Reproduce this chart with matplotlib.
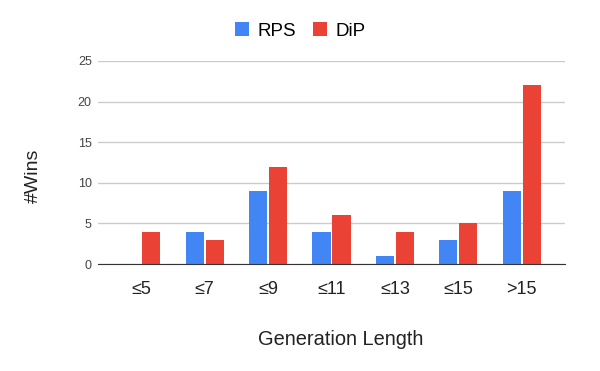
import numpy as np
import matplotlib
matplotlib.use("Agg")
import matplotlib.pyplot as plt

plt.rcParams['font.family'] = ['Liberation Sans', 'DejaVu Sans']

categories = ['≤5', '≤7', '≤9', '≤11', '≤13', '≤15', '>15']
rps = [0, 4, 9, 4, 1, 3, 9]
dip = [4, 3, 12, 6, 4, 5, 22]

blue = '#4285F4'
red = '#EA4335'

fig = plt.figure(figsize=(6, 3.71), dpi=100)
ax = fig.add_axes([0.1633, 0.2884, 0.7784, 0.5472])

x = np.arange(len(categories))
w = 0.285
off = 0.158
ax.bar(x - off, rps, width=w, color=blue, label='RPS', zorder=3)
ax.bar(x + off, dip, width=w, color=red, label='DiP', zorder=3)

ax.set_xlim(-0.68, len(categories) - 0.32)
ax.set_ylim(0, 25)
ax.set_yticks([0, 5, 10, 15, 20, 25])
ax.yaxis.grid(True, color='#cccccc', linewidth=1, zorder=0)
ax.set_xticks(x)
ax.set_xticklabels(categories, fontsize=13, color='#222222')
ax.tick_params(axis='y', labelsize=9, colors='#444444', length=0, pad=4.5)
ax.tick_params(axis='x', length=0, pad=12)

for s in ['top', 'right', 'left']:
    ax.spines[s].set_visible(False)
ax.spines['bottom'].set_color('#333333')
ax.spines['bottom'].set_zorder(4)

ax.set_xlabel('Generation Length', fontsize=14.4, color='#222222', va='center')
ax.xaxis.set_label_coords(0.519, -0.372)
ax.set_ylabel('#Wins', fontsize=14, color='#222222', va='center')
ax.yaxis.set_label_coords(-0.138, 0.436)

fig.legend(loc='upper center', bbox_to_anchor=(0.5, 0.985), ncol=2, frameon=False,
           fontsize=13.5, handlelength=0.75, handleheight=0.75, handletextpad=0.45,
           columnspacing=0.9)

fig.savefig('out.png', dpi=100)
